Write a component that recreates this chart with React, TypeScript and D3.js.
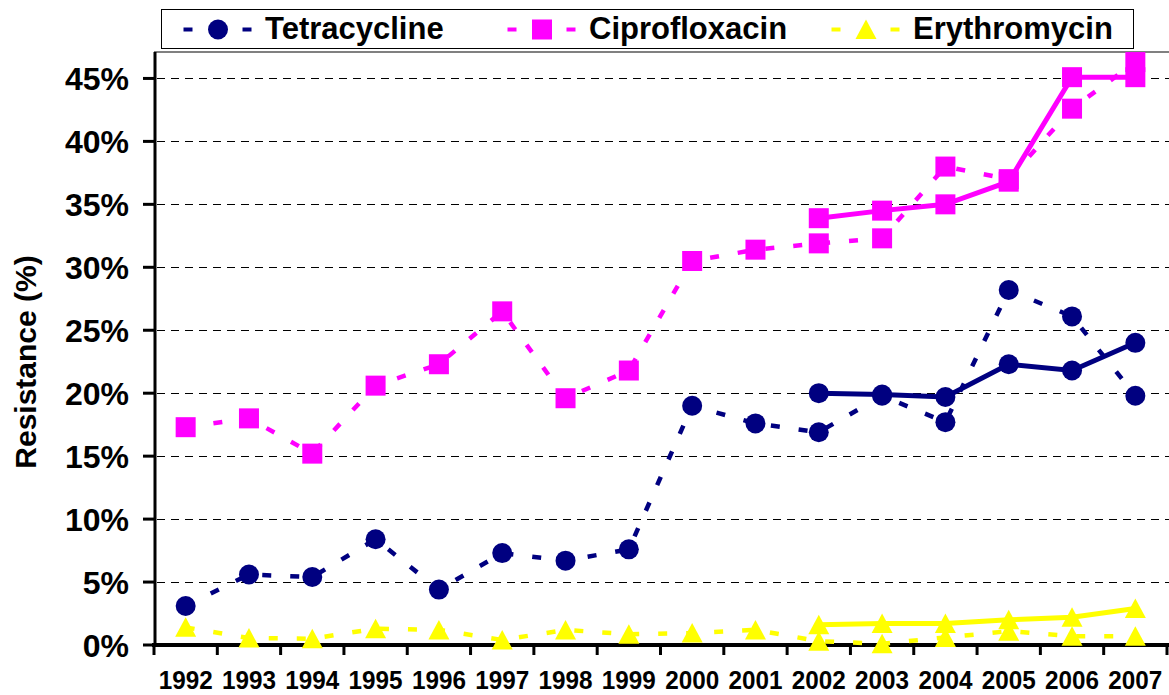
import * as React from "react";
import * as d3 from "d3";

const years = ["1992", "1993", "1994", "1995", "1996", "1997", "1998", "1999",
  "2000", "2001", "2002", "2003", "2004", "2005", "2006", "2007"];

// dashed series (full period)
const tetracycline = [3.1, 5.6, 5.4, 8.4, 4.4, 7.3, 6.7, 7.6, 19.0, 17.6, 16.9, 19.8, 17.7, 28.2, 26.1, 19.8];
const ciprofloxacin = [17.3, 18.0, 15.2, 20.6, 22.3, 26.5, 19.6, 21.8, 30.5, 31.4, 31.9, 32.3, 38.0, 37.0, 42.6, 46.3];
const erythromycin = [1.4, 0.55, 0.5, 1.3, 1.2, 0.4, 1.2, 0.85, 0.95, 1.2, 0.3, 0.1, 0.6, 1.1, 0.7, 0.7];

// solid series (2002 onwards)
const solidYears = ["2002", "2003", "2004", "2005", "2006", "2007"];
const tetracyclineSolid = [20.0, 19.9, 19.7, 22.3, 21.8, 24.0];
const ciprofloxacinSolid = [33.9, 34.5, 35.0, 36.8, 45.1, 45.1];
const erythromycinSolid = [1.6, 1.7, 1.7, 2.0, 2.2, 2.9];

const yTicks = [0, 5, 10, 15, 20, 25, 30, 35, 40, 45];
const seriesNames = ["Tetracycline", "Ciprofloxacin", "Erythromycin"];

const NAVY = "#000080";
const MAGENTA = "#FF00FF";
const YELLOW = "#FFFF00";
const FONT = "'Liberation Sans', Arial, Helvetica, sans-serif";

const width = 1169;
const height = 695;
const left = 154;
const right = 1167;
const top = 52;
const bottom = 645;

const Marker = ({ kind, x, y, color }) => {
  if (kind === "circle") return <circle cx={x} cy={y} r={10} fill={color} />;
  if (kind === "square")
    return <rect x={x - 10} y={y - 10} width={20} height={20} fill={color} />;
  return (
    <path
      d={`M${x},${y - 10}L${x + 10.5},${y + 9.5}L${x - 10.5},${y + 9.5}Z`}
      fill={color}
    />
  );
};

export default function App() {
  const x = d3.scaleBand().domain(years).range([left, right]).padding(0);
  const cx = (yr) => x(yr) + x.bandwidth() / 2;
  const y = d3.scaleLinear().domain([0, 47.1]).range([bottom, top]);

  const line = d3
    .line()
    .x((d) => cx(d[0]))
    .y((d) => y(d[1]));

  const series = [
    { name: seriesNames[0], kind: "circle", color: NAVY, dashed: tetracycline, solid: tetracyclineSolid },
    { name: seriesNames[1], kind: "square", color: MAGENTA, dashed: ciprofloxacin, solid: ciprofloxacinSolid },
    { name: seriesNames[2], kind: "triangle", color: YELLOW, dashed: erythromycin, solid: erythromycinSolid },
  ];

  const boundaries = years.map((yr) => x(yr)).concat([right]);

  return (
    <svg
      width={width}
      height={height}
      style={{ position: "absolute", left: 0, top: 0, background: "#fff" }}
      fontFamily={FONT}
    >
      <rect width={width} height={height} fill="#fff" />

      {/* plot area top border */}
      <line x1={left} x2={width} y1={top} y2={top} stroke="#808080" strokeWidth={2} />

      {/* gridlines */}
      {yTicks.filter((t) => t > 0).map((t) => (
        <line
          key={t}
          x1={left + 3}
          x2={width}
          y1={Math.round(y(t)) + 0.5}
          y2={Math.round(y(t)) + 0.5}
          stroke="#000"
          strokeWidth={1}
          strokeDasharray="8 6"
        />
      ))}

      {/* y axis */}
      <line x1={left + 1} x2={left + 1} y1={top} y2={bottom + 2} stroke="#000" strokeWidth={3} />
      {yTicks.map((t) => (
        <g key={t}>
          <line x1={left - 11} x2={left + 1} y1={y(t)} y2={y(t)} stroke="#000" strokeWidth={3} />
          <text
            x={129}
            y={y(t) + 12}
            textAnchor="end"
            fontSize={32}
            fontWeight="bold"
          >
            {t}%
          </text>
        </g>
      ))}
      <text
        transform={`translate(36,362) rotate(-90)`}
        textAnchor="middle"
        fontSize={30}
        fontWeight="bold"
      >
        Resistance (%)
      </text>

      {/* x axis */}
      <line x1={left - 2} x2={width} y1={bottom} y2={bottom} stroke="#000" strokeWidth={4} />
      {boundaries.map((b, i) => (
        <line key={i} x1={b} x2={b} y1={bottom} y2={bottom + 10} stroke="#000" strokeWidth={3} />
      ))}
      {years.map((yr) => (
        <text
          key={yr}
          x={cx(yr)}
          y={689}
          textAnchor="middle"
          fontSize={25}
          fontWeight="bold"
          textLength={54}
          lengthAdjust="spacingAndGlyphs"
        >
          {yr}
        </text>
      ))}

      {/* series */}
      {series.map((s) => {
        const dashedPts = years.map((yr, i) => [yr, s.dashed[i]]);
        const solidPts = solidYears.map((yr, i) => [yr, s.solid[i]]);
        return (
          <g key={s.name}>
            <path
              d={line(dashedPts)}
              fill="none"
              stroke={s.color}
              strokeWidth={4.5}
              strokeDasharray="9 19"
            />
            {dashedPts.map((p) => (
              <Marker key={"d" + p[0]} kind={s.kind} x={cx(p[0])} y={y(p[1])} color={s.color} />
            ))}
            <path d={line(solidPts)} fill="none" stroke={s.color} strokeWidth={5} />
            {solidPts.map((p) => (
              <Marker key={"s" + p[0]} kind={s.kind} x={cx(p[0])} y={y(p[1])} color={s.color} />
            ))}
          </g>
        );
      })}

      {/* legend */}
      <rect x={161.5} y={9.5} width={972} height={39} fill="#fff" stroke="#000" strokeWidth={1} />
      {series.map((s, i) => {
        const tx = 265 + i * 324;
        return (
          <g key={s.name}>
            <rect x={tx - 81.5} y={27.5} width={9} height={4} fill={s.color} />
            <Marker kind={s.kind} x={tx - 47} y={29.5} color={s.color} />
            <rect x={tx - 22.5} y={27.5} width={9} height={4} fill={s.color} />
            <text x={tx} y={39} fontSize={31} fontWeight="bold">
              {s.name}
            </text>
          </g>
        );
      })}
    </svg>
  );
}
